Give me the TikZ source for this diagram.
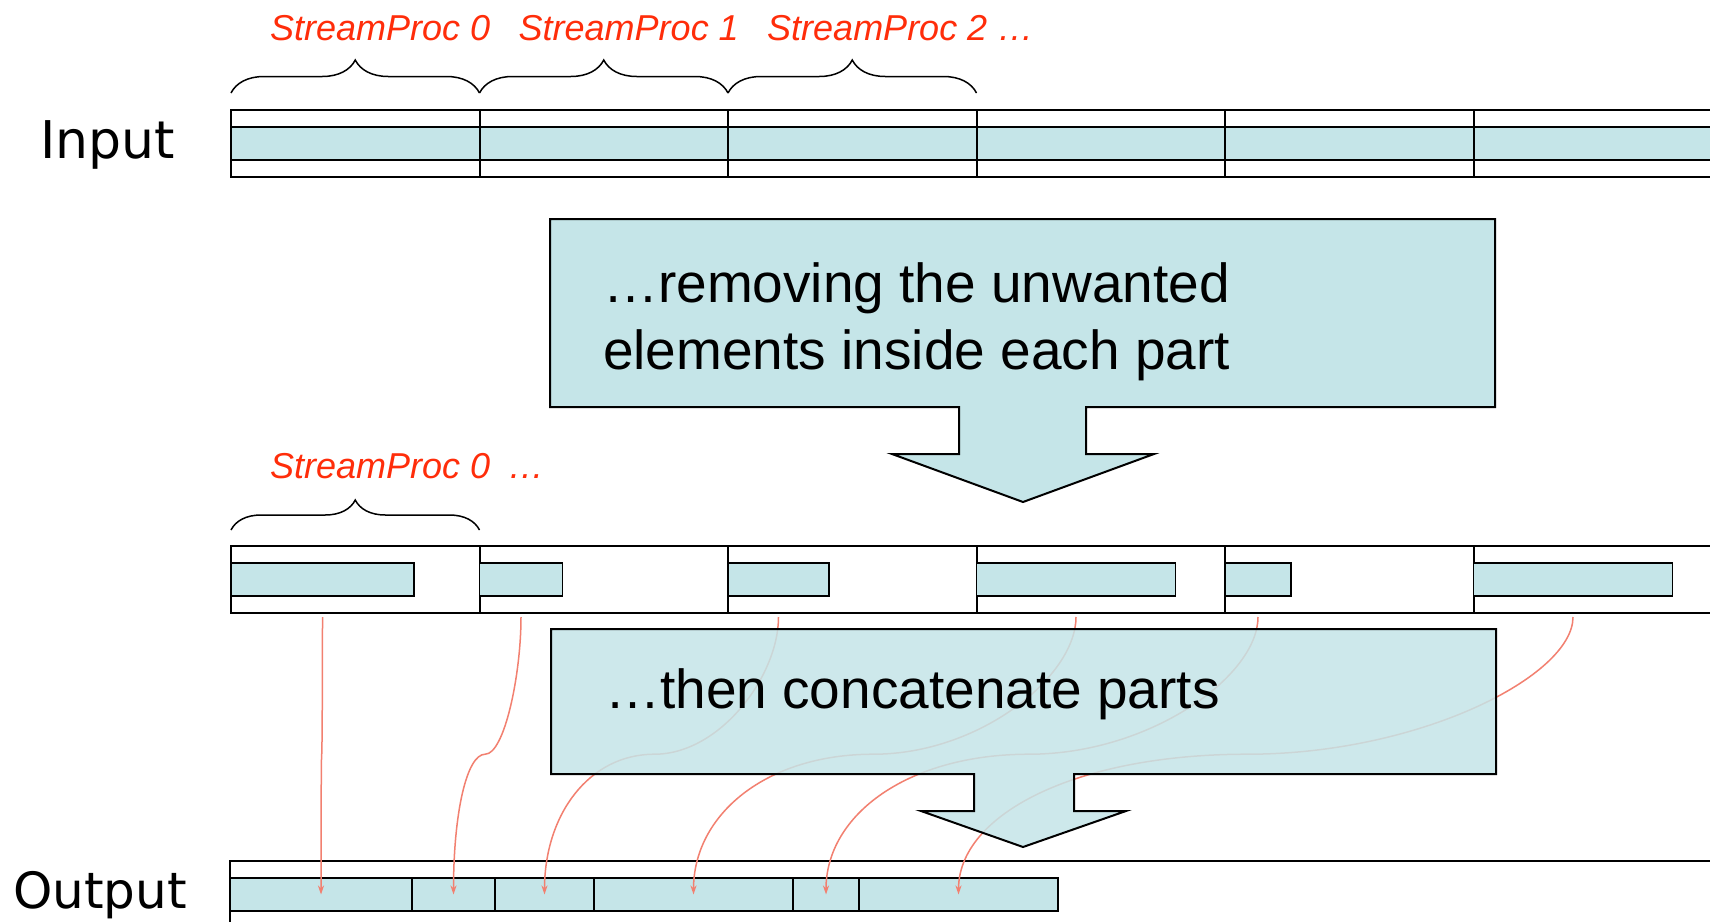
\documentclass[tikz,border=0pt]{standalone}
\usepackage{fontspec}
\setmainfont{Liberation Sans}
\newfontfamily\sidefont{DejaVu Sans}
\usetikzlibrary{decorations.pathreplacing,arrows.meta,calc}
\definecolor{barcyan}{RGB}{197,229,232}
\definecolor{procred}{RGB}{255,45,10}
\definecolor{linkred}{RGB}{242,128,112}

\begin{document}
\begin{tikzpicture}[x=1pt,y=-1pt,
  cell/.style={draw,line width=2pt,minimum width=248.5pt,minimum height=67pt,inner sep=0pt,outer sep=0pt,anchor=north west},
  band/.style={draw,fill=barcyan,line width=2pt,minimum height=33pt,inner sep=0pt,outer sep=0pt},
  part/.style={draw,fill=barcyan,line width=1.8pt,minimum height=33pt,inner sep=0pt,outer sep=0pt,anchor=west},
  curly/.style={decorate,decoration={brace,amplitude=#1},line width=1.5pt},
  proc/.style={font=\fontsize{36}{40}\selectfont\itshape,text=procred,inner sep=0pt,anchor=base west},
  side/.style={font=\sidefont\fontsize{#1}{55}\selectfont,inner sep=0pt,anchor=base west},
  big/.style={font=\fontsize{55}{67}\selectfont,inner sep=0pt,anchor=west,align=left},
  bigarrow/.style={draw,fill=barcyan,line width=2pt,line join=miter},
  link/.style={draw=linkred,line width=1.5pt,-{Stealth[length=9pt,width=6pt]}}
]
\useasboundingbox (0,0) rectangle (1710,921);
\clip (0,0) rectangle (1710,921);
\fill[white] (0,0) rectangle (1710,921);

% input array
\node[side=52] (input) at (40,158) {Input};
\foreach \i in {0,...,5} {
  \node[cell] (in\i) at (231+248.5*\i,110) {};
  \node[band,minimum width=248.5pt] (inb\i) at (in\i.center) {};
}
\foreach \i in {0,1,2} {
  \draw[curly=33pt] ($(in\i.north west)+(0,-17)$) -- ($(in\i.north east)+(0,-17)$);
  \node[proc] (sp\i) at ($(in\i.north west)+(39,-70)$) {StreamProc \i};
}
\node[proc,xshift=10pt] (more) at (sp2.base east) {…};

% after removing
\foreach \w [count=\i from 0] in {183,83,101,199,66,199} {
  \node[cell] (mid\i) at (231+248.5*\i,546) {};
  \node[part,minimum width=\w pt] (mb\i) at (mid\i.west) {};
}
\draw[curly=30pt] ($(mid0.north west)+(0,-16)$) -- ($(mid0.north east)+(0,-16)$);
\node[proc] (spm) at ($(mid0.north west)+(39,-68)$) {StreamProc 0\hspace{18pt}…};

% output array
\node[side=50] (output) at (13,908) {Output};
\node[cell,minimum width=1500pt] (out) at (230,861) {};
\node[part,minimum width=182pt] (ob0) at (out.west) {};
\foreach \w/\i/\j in {83/1/0,99/2/1,199/3/2,66/4/3,199/5/4}
  \node[part,minimum width=\w pt] (ob\i) at (ob\j.east) {};

% first big arrow
\draw[bigarrow] (550,219) -| (1495,407) -| (1086,454) -- (1154,454) -- (1023,502)
  -- (892,454) -- (959,454) |- (550,407) -- cycle;
\node[big] (remove) at (603,322) {…removing the unwanted\\elements inside each part};

% links
\foreach \i in {0,...,5} {
  \coordinate (m\i) at ($(mb\i.south)!0.53!(ob\i.center)$);
  \draw[link,shorten <=21pt] let \p1=(mb\i.south), \p2=(ob\i.center) in
    (mb\i.south) .. controls +(0,80) and +({0.28*(\x1-\x2)},0) .. (m\i)
    .. controls +({-0.28*(\x1-\x2)},0) and +(0,-80) .. (ob\i.center);
}

% second big arrow
\draw[bigarrow,fill opacity=0.85] (551,629) -| (1496,774) -| (1074,811) -- (1126,811)
  -- (1023,847) -- (921,811) -- (974,811) |- (551,774) -- cycle;
\node[big] (concat) at (605,694) {…then concatenate parts};
\end{tikzpicture}
\end{document}
